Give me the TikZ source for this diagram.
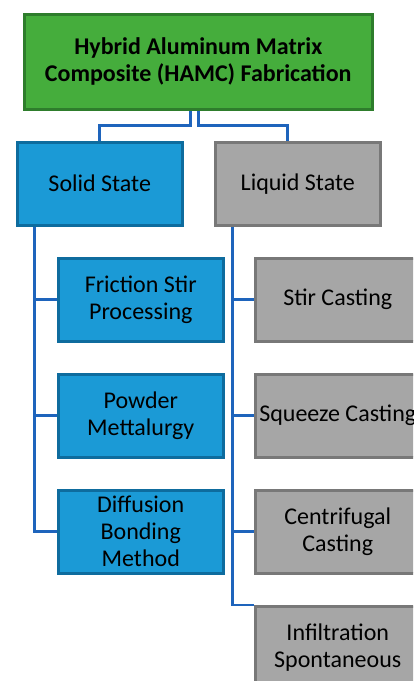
\documentclass[tikz,border=0pt]{standalone}
\usepackage{fontspec}
\setmainfont{Carlito}
\usepackage{tikz}
\usetikzlibrary{positioning}

\definecolor{hamcgreen}{RGB}{69,173,60}
\definecolor{hamcgreenline}{RGB}{46,125,44}
\definecolor{solidblue}{RGB}{27,154,214}
\definecolor{solidblueline}{RGB}{14,108,158}
\definecolor{liquidgray}{RGB}{166,166,166}
\definecolor{liquidgrayline}{RGB}{120,120,120}
\definecolor{linkblue}{RGB}{30,100,188}

\begin{document}
\begin{tikzpicture}[x=1pt,y=-1pt,
    every node/.style={font=\fontsize{24}{27}\selectfont, align=center, inner sep=0pt, line width=2.5pt},
    box/.style={anchor=north west, minimum width=165pt, minimum height=83pt},
    solidbox/.style={box, fill=solidblue, draw=solidblueline},
    liquidbox/.style={box, fill=liquidgray, draw=liquidgrayline},
    link/.style={draw=linkblue, line width=2.8pt}]
  \useasboundingbox (0,0) rectangle (413,681);
  \clip (0,0) rectangle (413,681);

  \node (hamc) [anchor=north west, minimum width=348pt, minimum height=95pt,
                fill=hamcgreen, draw=hamcgreenline,
                font=\fontsize{24}{27}\selectfont\bfseries]
        at (23,13) {Hybrid Aluminum Matrix\\Composite (HAMC) Fabrication};

  \node (solid)  [solidbox]  at (16,141)  {Solid State};
  \node (liquid) [liquidbox] at (214,141) {Liquid State};

  \node (fsp)  [solidbox] at (57,257) {Friction Stir\\Processing};
  \node (pm)   [solidbox] at (57,373) {Powder\\Mettalurgy};
  \node (dbm)  [solidbox] at (57,489) {Diffusion\\Bonding\\Method};

  \node (stir) [liquidbox] at (254,257) {Stir Casting};
  \node (sqz)  [liquidbox] at (254,373) {Squeeze Casting};
  \node (cent) [liquidbox] at (254,489) {Centrifugal\\Casting};
  \node (infl) [liquidbox] at (254,605) {Infiltration\\Spontaneous};

  \coordinate (hamc-l) at ([xshift=-8pt]hamc.south);
  \coordinate (hamc-r) at (hamc.south);
  \coordinate (solid-trunk)  at ([xshift=-65pt]solid.south);
  \coordinate (liquid-trunk) at ([xshift=-65pt]liquid.south);

  \path[link]
    (hamc-l) -- ++(0,15) -| (solid.north)
    (hamc-r) -- ++(0,15) -| ([xshift=-10pt]liquid.north)
    (solid-trunk) |- (fsp.west)
    (solid-trunk) |- (pm.west)
    (solid-trunk) |- (dbm.west)
    (liquid-trunk) |- (stir.west)
    (liquid-trunk) |- (sqz.west)
    (liquid-trunk) |- (cent.west)
    (liquid-trunk) |- (infl.north west)
  ;
\end{tikzpicture}
\end{document}
